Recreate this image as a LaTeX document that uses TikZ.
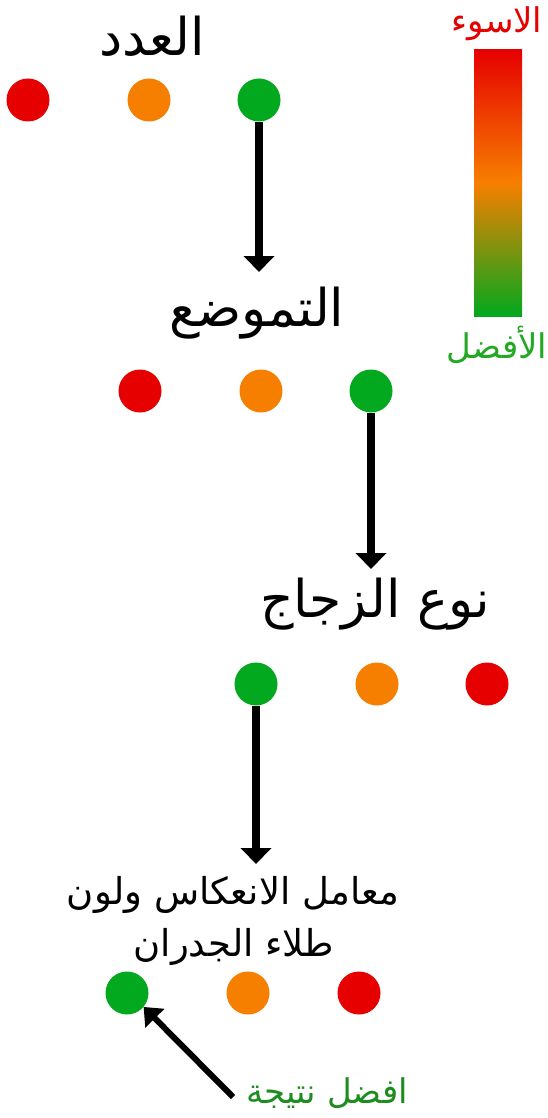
\documentclass[tikz,border=0pt]{standalone}
\usepackage{fontspec}
\usetikzlibrary{arrows.meta}
\newfontfamily\arabicfont[Script=Arabic]{DejaVu Sans}
\TeXXeTstate=1
\definecolor{cred}{HTML}{E60000}
\definecolor{corange}{HTML}{F77F00}
\definecolor{cgreen}{HTML}{02A81E}
\definecolor{lgreen}{HTML}{1E8C1E}
\definecolor{lbgreen}{HTML}{22A822}
\begin{document}
\begin{tikzpicture}[x=1pt,y=-1pt,
  dot/.style={circle,minimum size=43pt,inner sep=0pt,draw=none},
  lbl/.style={inner sep=0pt,font=\arabicfont\fontsize{52}{56}\selectfont},
  lbls/.style={inner sep=0pt,font=\arabicfont\fontsize{37}{40}\selectfont},
  lblx/.style={inner sep=0pt,font=\arabicfont\fontsize{34}{38}\selectfont},
  flow/.style={line width=8pt,-{Triangle[width=30pt,length=16pt]}}]
\useasboundingbox (0,0) rectangle (547,1118);
% legend
\shade[top color=cred,bottom color=cgreen,middle color=corange] (474,50) rectangle (522,316);
\node[lblx,text=cred] (worst) at (497,24) {\beginR الاسوء\endR};
\node[lblx,text=lbgreen] (best) at (497,345) {\beginR الأفضل\endR};
% row 1
\node[lbl] (t1) at (152,36) {\beginR العدد\endR};
\node[dot,fill=cred] (r1) at (28,100) {};
\node[dot,fill=corange] (o1) at (149,100) {};
\node[dot,fill=cgreen] (g1) at (259,100) {};
\coordinate (e1) at (259,272);
\draw[flow] (g1.south) -- (e1);
% row 2
\node[lbl] (t2) at (257,313) {\beginR التموضع\endR};
\node[dot,fill=cred] (r2) at (140,391) {};
\node[dot,fill=corange] (o2) at (261,391) {};
\node[dot,fill=cgreen] (g2) at (371,391) {};
\coordinate (e2) at (371,569);
\draw[flow] (g2.south) -- (e2);
% row 3
\node[lbl] (t3) at (375,604) {\beginR نوع الزجاج\endR};
\node[dot,fill=cgreen] (g3) at (256,684) {};
\node[dot,fill=corange] (o3) at (377,684) {};
\node[dot,fill=cred] (r3) at (487,684) {};
\coordinate (e3) at (256,864);
\draw[flow] (g3.south) -- (e3);
% row 4
\node[lbls] (t4a) at (233,895) {\beginR معامل الانعكاس ولون\endR};
\node[lbls] (t4b) at (234,947) {\beginR طلاء الجدران\endR};
\node[dot,fill=cgreen] (g4) at (127,993) {};
\node[dot,fill=corange] (o4) at (248,993) {};
\node[dot,fill=cred] (r4) at (359,993) {};
\node[lblx,text=lgreen] (res) at (327,1093) {\beginR افضل نتيجة\endR};
\coordinate (s4) at (233,1097);
\draw[line width=6pt,-{Triangle[width=26pt,length=16pt]}] (s4) -- (g4.-40);
\end{tikzpicture}
\end{document}
